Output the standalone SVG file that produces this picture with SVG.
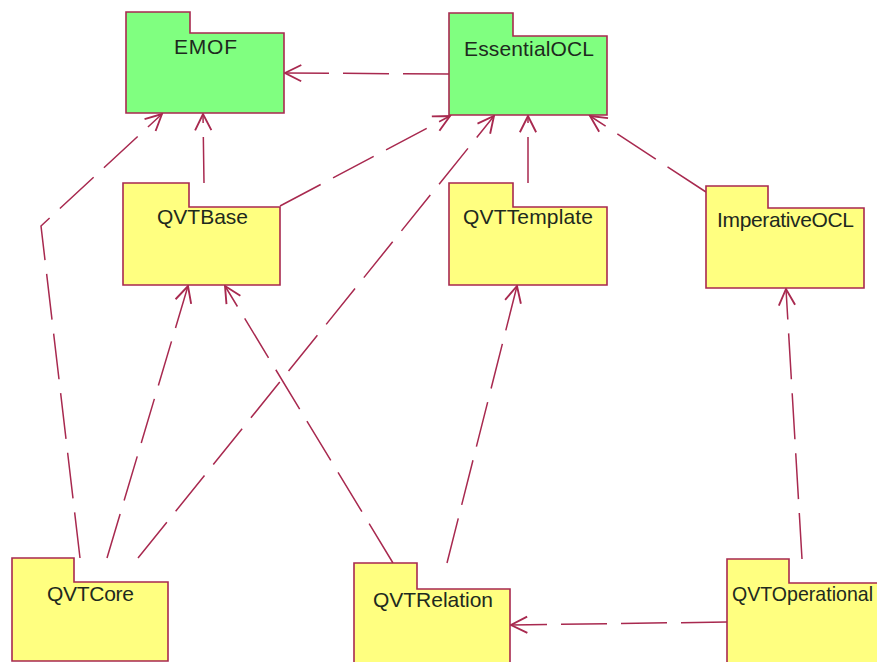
<svg xmlns="http://www.w3.org/2000/svg" width="877" height="662" viewBox="0 0 877 662">
<style>
.pkg{stroke:#A8294F;stroke-width:1.6;}
.g{fill:#80FF80;}
.y{fill:#FFFF80;}
.t{font-family:"Liberation Sans",Arial,sans-serif;font-size:21px;fill:#1e2a1e;text-anchor:middle;}
.c{fill:none;stroke:#A8294F;stroke-width:1.5;stroke-dasharray:46 14;marker-end:url(#open);}
</style>
<defs>
<marker id="open" markerUnits="userSpaceOnUse" markerWidth="20" markerHeight="20" viewBox="-14 -8 16 16" refX="0" refY="0" orient="auto">
<path d="M -13 -6.5 L 0 0 L -13 6.5" fill="none" stroke="#A8294F" stroke-width="1.5"/>
</marker>
</defs>
<rect width="877" height="662" fill="#FFFFFF"/>
<g id="connectors">
<line class="c" x1="449" y1="74" x2="285" y2="73"/>
<line class="c" x1="204" y1="183" x2="203" y2="114"/>
<line class="c" x1="280" y1="206" x2="450" y2="116"/>
<polyline class="c" points="80,558 41,226 162,114"/>
<line class="c" x1="107" y1="558" x2="188" y2="286"/>
<line class="c" x1="138" y1="558" x2="494" y2="116"/>
<line class="c" x1="393" y1="563" x2="225" y2="286"/>
<line class="c" x1="447" y1="563" x2="517" y2="286"/>
<line class="c" x1="528" y1="183" x2="528" y2="116"/>
<line class="c" x1="706" y1="192" x2="590" y2="116"/>
<line class="c" x1="802" y1="559" x2="786" y2="289"/>
<line class="c" x1="727" y1="622" x2="511" y2="625"/>
</g>
<g id="EMOF">
<path class="pkg g" d="M126,12 H190 V33 H284 V113 H126 Z"/>
<text class="t" x="205.5" y="54" textLength="63">EMOF</text>
</g>
<g id="EssentialOCL">
<path class="pkg g" d="M449,13 H513 V36 H607 V115 H449 Z"/>
<text class="t" x="529" y="56" textLength="130">EssentialOCL</text>
</g>
<g id="QVTBase">
<path class="pkg y" d="M123,183 H189 V207 H280 V285 H123 Z"/>
<text class="t" x="202.5" y="224" textLength="91">QVTBase</text>
</g>
<g id="QVTTemplate">
<path class="pkg y" d="M449,183 H513 V207 H607 V285 H449 Z"/>
<text class="t" x="528" y="224" textLength="130">QVTTemplate</text>
</g>
<g id="ImperativeOCL">
<path class="pkg y" d="M706,186 H768 V208 H864 V288 H706 Z"/>
<text class="t" x="785.5" y="227" textLength="137">ImperativeOCL</text>
</g>
<g id="QVTCore">
<path class="pkg y" d="M12,558 H74 V582 H168 V661 H12 Z"/>
<text class="t" x="90.5" y="601" textLength="87">QVTCore</text>
</g>
<g id="QVTRelation">
<path class="pkg y" d="M354,563 H417 V589 H510 V680 H354 Z"/>
<text class="t" x="433" y="607" textLength="120">QVTRelation</text>
</g>
<g id="QVTOperational">
<path class="pkg y" d="M727,559 H789 V583 H900 V680 H727 Z"/>
<text class="t" x="732" y="601" textLength="141" lengthAdjust="spacingAndGlyphs" style="text-anchor:start">QVTOperational</text>
</g>
</svg>
